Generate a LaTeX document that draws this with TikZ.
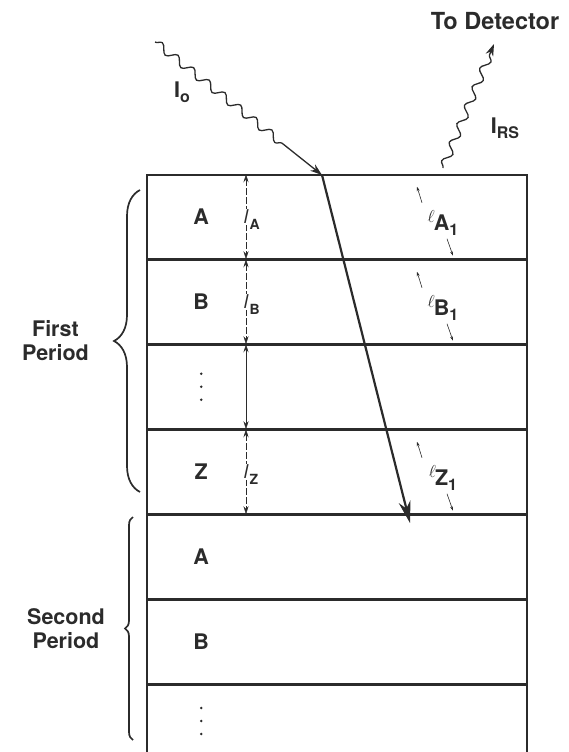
\documentclass[tikz,border=0pt]{standalone}
\usepackage{fontspec}
\setmainfont{TeX Gyre Heros}
\usetikzlibrary{positioning, arrows.meta, calc, decorations.pathmorphing, decorations.pathreplacing}
\definecolor{ink}{HTML}{2B2B2B}

\begin{document}
\begin{tikzpicture}[x=1pt, y=-1pt, >=Stealth, semithick, color=ink,
    layer/.style={draw=ink, line width=1.5pt, minimum width=380pt, minimum height=83.5pt, inner sep=0pt},
    lab/.style={font=\fontsize{21.5}{24}\selectfont\bfseries, text=ink},
    sub/.style={font=\fontsize{14}{14}\selectfont\bfseries, text=ink, inner sep=0pt},
    dimarr/.style={<->, thin, >={Stealth[length=8pt, width=5pt]}},
    tick/.style={->, semithick, >={Stealth[length=4.5pt, width=3pt]}},
    beam/.style={->, line width=2.2pt, >={Stealth[length=22pt, width=12pt]}},
    wave/.style={->, line width=1.3pt, >={Stealth[length=12pt, width=8pt]}, decorate,
      decoration={snake, amplitude=4pt, segment length=20pt, post length=#1}},
    curly/.style={decorate, line width=1.7pt, decoration={brace, amplitude=#1}}]
  \useasboundingbox (0,0) rectangle (568,752);

  % the stack of layers
  \node[layer] (L1) at (337,216.75) {};
  \foreach \i [count=\j from 2] in {1,...,5}
    \node[layer, below=0pt of L\i] (L\j) {};
  \node[layer, below=0pt of L6, minimum height=72pt] (L7) {};

  \foreach \l/\t in {L1/A, L2/B, L4/Z, L5/A, L6/B}
    \node[lab] at ([xshift=55pt]\l.west) {\t};
  \foreach \l in {L3, L7}
    \foreach \d in {-13,0,13}
      \fill ([xshift=55pt, yshift=\d pt]\l.west) circle (1.4pt);

  % layer thicknesses
  \coordinate (dx) at (246,0);
  \foreach \l/\s in {L1/A, L2/B, L4/Z}
    \draw[dimarr, dash pattern=on 7pt off 2pt] (\l.north -| dx) -- node[fill=white, inner sep=1pt,
      font=\fontsize{19}{19}\selectfont\itshape, label={[sub]-30:\s}] {l} (\l.south -| dx);
  \draw[dimarr] (L3.north -| dx) -- (L3.south -| dx);

  % path lengths
  \foreach \l/\s/\n in {L1/A/lA, L2/B/lB, L4/Z/lZ} {
    \node[lab] (\n) at ([xshift=106pt, yshift=-6pt]\l.center)
      {\raisebox{8pt}{\fontsize{19}{19}\selectfont$\ell$}\kern-1pt\s\raisebox{-5pt}{\fontsize{16}{16}\selectfont 1}};
    \draw[tick] ($(\n)+(-21,-20)$) -- ++(-5,-16);
    \draw[tick] ($(\n)+(4,16)$) -- ++(6,17);
  }

  % incident and scattered light
  \coordinate (src) at (155,42);
  \coordinate (hit) at (322,175);
  \coordinate (beamend) at (410,523);
  \coordinate (refl) at (443,168);
  \coordinate (det) at (494,44);
  \draw[wave=44pt] (src) -- (hit);
  \draw[beam] (hit) -- (beamend);
  \draw[wave=10pt] (refl) -- (det);
  \node[lab] (I0) at (182,92) {I\raisebox{-5pt}{\fontsize{16}{16}\selectfont o}};
  \node[lab] (IRS) at (505,128) {I\raisebox{-5pt}{\fontsize{16}{16}\selectfont RS}};
  \node[lab, font=\fontsize{23.5}{26}\selectfont\bfseries] (todet) at (495,21) {To Detector};

  % periods
  \draw[curly=26pt] (140,492) -- (140,190)
    node[midway, lab, left=47pt, align=center] (first) {First\\Period};
  \draw[curly=8pt] (133,740) -- (133,517)
    node[midway, lab, left=24pt, align=center] (second) {Second\\Period};
\end{tikzpicture}
\end{document}
